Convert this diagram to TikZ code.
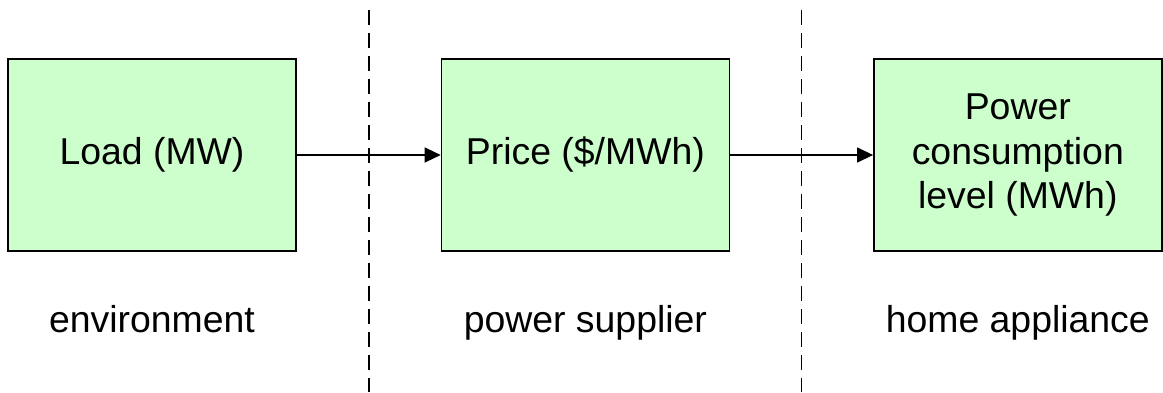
\documentclass[tikz,border=0pt]{standalone}
\usepackage{fontspec}
\setmainfont{Liberation Sans}
\usepackage{xcolor}
\usepackage{tikz}
\usetikzlibrary{positioning,arrows.meta,calc}

\definecolor{boxgreen}{HTML}{CCFFCC}

\begin{document}
\begin{tikzpicture}[
      font=\fontsize{18.7}{22}\selectfont,
      every node/.style={align=center},
      block/.style={
        draw, rectangle, fill=boxgreen, line width=0.7pt,
        minimum width=144pt, minimum height=96pt, inner sep=2pt,
      },
      role/.style={inner sep=0pt},
      flow/.style={-{Triangle[length=8pt,width=7.5pt]}, line width=0.6pt},
      border/.style={line width=0.8pt, dash pattern=on 7.5pt off 4pt},
    ]

    % fixed canvas, same proportions as the original
    \useasboundingbox (0,0) rectangle (581.5pt,-196pt);

    % The three blocks in one row
    \node[block] (load) at (76pt,-77.5pt) {Load (MW)};
    \node[block, right=72pt of load] (price) {Price (\$/MWh)};
    \node[block, right=71.5pt of price] (cons) {Power\\consumption\\level (MWh)};

    % Who owns each block
    \node[role, below=40.5pt of load.south, anchor=base]  (env) {environment};
    \node[role, below=40.5pt of price.south, anchor=base] (sup) {power supplier};
    \node[role, below=40.5pt of cons.south, anchor=base]  (app) {home appliance};

    % Dashed borders half way between blocks
    \coordinate (midA) at ($(load.east)!0.5!(price.west)$);
    \coordinate (midB) at ($(price.east)!0.5!(cons.west)$);
    \coordinate (topA) at ($(midA)+(0,72.5pt)$);
    \coordinate (botA) at ($(midA)+(0,-118.5pt)$);
    \coordinate (topB) at ($(midB)+(0,72.5pt)$);
    \coordinate (botB) at ($(midB)+(0,-118.5pt)$);
    \draw[border] (topA) -- (botA);
    \draw[border] (topB) -- (botB);

    % Flow from left to right
    \draw[flow] (load.east) -- (price.west);
    \draw[flow] (price.east) -- (cons.west);

  \end{tikzpicture}
\end{document}
